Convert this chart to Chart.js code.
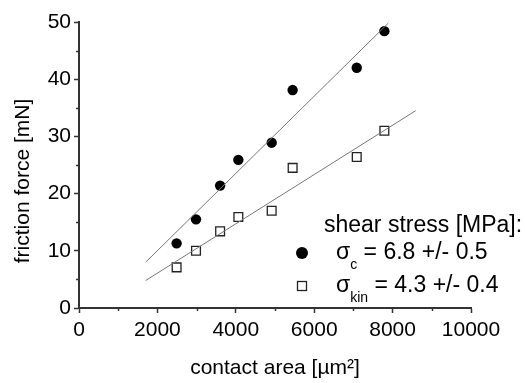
<!DOCTYPE html>
<html>
<head>
<meta charset="utf-8">
<script src="https://cdn.jsdelivr.net/npm/chart.js@4.4.1/dist/chart.umd.min.js"></script>
<style>
  html, body { margin: 0; padding: 0; background: #fff; }
  #wrap { width: 525px; height: 383px; position: relative; }
</style>
</head>
<body>
<div id="wrap"><canvas id="frictionChart"></canvas></div>
<script>
// data: contact area [µm²] vs friction force [mN]
const areaPts   = [2490, 2985, 3600, 4065, 4915, 5450, 7085, 7790];
const forceC    = [11.3, 15.5, 21.4, 25.9, 28.9, 38.1, 42.0, 48.4];
const forceKin  = [7.1, 10.0, 13.4, 15.9, 17.0, 24.5, 26.4, 31.0];

// fitted lines (end points)
const fitCx = [1700, 7890];
const fitCy = [8.0, 49.8];
const fitKx = [1700, 8590];
const fitKy = [4.8, 34.5];

const xTicks = [0, 2000, 4000, 6000, 8000, 10000];
const xMinor = [1000, 3000, 5000, 7000, 9000];
const yTicks = [0, 10, 20, 30, 40, 50];
const yMinor = [5, 15, 25, 35, 45];

const FONT = "'Liberation Sans', Arial, sans-serif";
const AXIS_COLOR = '#333';
const TEXT_COLOR = '#000';

function toPts(xs, ys) {
    return xs.map((x, i) => ({ x: x, y: ys[i] }));
}

// minor ticks, y axis title and the legend with subscripts
const extrasPlugin = {
    id: 'extras',
    afterDraw(chart) {
        const ctx = chart.ctx;
        const xs = chart.scales.x;
        const ys = chart.scales.y;
        const area = chart.chartArea;

        ctx.save();
        ctx.strokeStyle = AXIS_COLOR;
        ctx.lineWidth = 1.5;
        xMinor.forEach(v => {
            const px = Math.round(xs.getPixelForValue(v)) + 0.5;
            ctx.beginPath();
            ctx.moveTo(px, area.bottom);
            ctx.lineTo(px, area.bottom + 3);
            ctx.stroke();
        });
        yMinor.forEach(v => {
            const py = Math.round(ys.getPixelForValue(v)) + 0.5;
            ctx.beginPath();
            ctx.moveTo(area.left, py);
            ctx.lineTo(area.left - 3, py);
            ctx.stroke();
        });

        // y axis title (sits a bit below the middle in the original)
        ctx.fillStyle = TEXT_COLOR;
        ctx.font = '21px ' + FONT;
        ctx.textAlign = 'center';
        ctx.textBaseline = 'middle';
        ctx.translate(area.left - 56, (area.top + area.bottom) / 2 + 16);
        ctx.rotate(-Math.PI / 2);
        ctx.fillText('friction force [mN]', 0, 0);
        ctx.restore();

        // legend
        ctx.save();
        ctx.fillStyle = TEXT_COLOR;
        ctx.textAlign = 'left';
        ctx.textBaseline = 'alphabetic';
        ctx.font = '23px ' + FONT;
        ctx.fillText('shear stress [MPa]:', 324, 232);

        const rows = [
            { sub: 'c',   rest: ' = 6.8 +/- 0.5', y: 259, marker: 'circle' },
            { sub: 'kin', rest: ' = 4.3 +/- 0.4', y: 292, marker: 'square' }
        ];
        rows.forEach(r => {
            let x = 336;
            ctx.font = '23px ' + FONT;
            ctx.fillText('σ', x, r.y);
            x += ctx.measureText('σ').width;
            ctx.font = '14px ' + FONT;
            ctx.fillText(r.sub, x, r.y + 10);
            x += ctx.measureText(r.sub).width;
            ctx.font = '23px ' + FONT;
            ctx.fillText(r.rest, x, r.y);

            const my = r.y - 6;
            if (r.marker === 'circle') {
                ctx.beginPath();
                ctx.arc(302, my, 6, 0, Math.PI * 2);
                ctx.fillStyle = '#000';
                ctx.fill();
            } else {
                ctx.fillStyle = '#fff';
                ctx.fillRect(297.5, my - 4.5, 9, 9);
                ctx.strokeStyle = '#222';
                ctx.lineWidth = 1.3;
                ctx.strokeRect(297.5, my - 4.5, 9, 9);
            }
            ctx.fillStyle = TEXT_COLOR;
        });
        ctx.restore();
    }
};

const chart = new Chart(document.getElementById('frictionChart'), {
    type: 'scatter',
    data: {
        datasets: [
            {
                label: 'fit c',
                data: toPts(fitCx, fitCy),
                showLine: true,
                borderColor: '#777',
                borderWidth: 1,
                pointRadius: 0
            },
            {
                label: 'fit kin',
                data: toPts(fitKx, fitKy),
                showLine: true,
                borderColor: '#777',
                borderWidth: 1,
                pointRadius: 0
            },
            {
                label: 'σc',
                data: toPts(areaPts, forceC),
                pointStyle: 'circle',
                pointRadius: 5.2,
                backgroundColor: '#000',
                borderColor: '#000',
                borderWidth: 0
            },
            {
                label: 'σkin',
                data: toPts(areaPts, forceKin),
                pointStyle: 'rect',
                pointRadius: 6.2,
                backgroundColor: 'rgba(255,255,255,0)',
                borderColor: '#222',
                borderWidth: 1.3
            }
        ]
    },
    options: {
        responsive: true,
        maintainAspectRatio: false,
        animation: false,
        devicePixelRatio: 1,
        layout: { padding: { top: 22, right: 54, left: 0, bottom: 0 } },
        plugins: {
            legend: { display: false },
            tooltip: { enabled: false }
        },
        scales: {
            x: {
                type: 'linear',
                min: 0,
                max: 10000,
                afterBuildTicks: s => { s.ticks = xTicks.map(v => ({ value: v })); },
                afterFit: s => { s.height = 75; },
                grid: {
                    drawOnChartArea: false,
                    drawTicks: true,
                    tickLength: 5,
                    tickColor: AXIS_COLOR,
                    tickWidth: 1.5
                },
                border: { display: true, color: AXIS_COLOR, width: 2 },
                ticks: {
                    color: TEXT_COLOR,
                    padding: 5,
                    maxRotation: 0,
                    font: { family: FONT, size: 21 },
                    callback: v => String(v)
                },
                title: {
                    display: true,
                    text: 'contact area [µm²]',
                    color: TEXT_COLOR,
                    font: { family: FONT, size: 21 },
                    padding: { top: 0, bottom: 2 }
                }
            },
            y: {
                type: 'linear',
                min: 0,
                max: 50,
                afterBuildTicks: s => { s.ticks = yTicks.map(v => ({ value: v })); },
                afterFit: s => { s.width = 79; },
                grid: {
                    drawOnChartArea: false,
                    drawTicks: true,
                    tickLength: 5,
                    tickColor: AXIS_COLOR,
                    tickWidth: 1.5
                },
                border: { display: true, color: AXIS_COLOR, width: 2 },
                ticks: {
                    color: TEXT_COLOR,
                    padding: 3,
                    font: { family: FONT, size: 21 },
                    callback: v => String(v)
                }
            }
        }
    },
    plugins: [extrasPlugin]
});
</script>
</body>
</html>
